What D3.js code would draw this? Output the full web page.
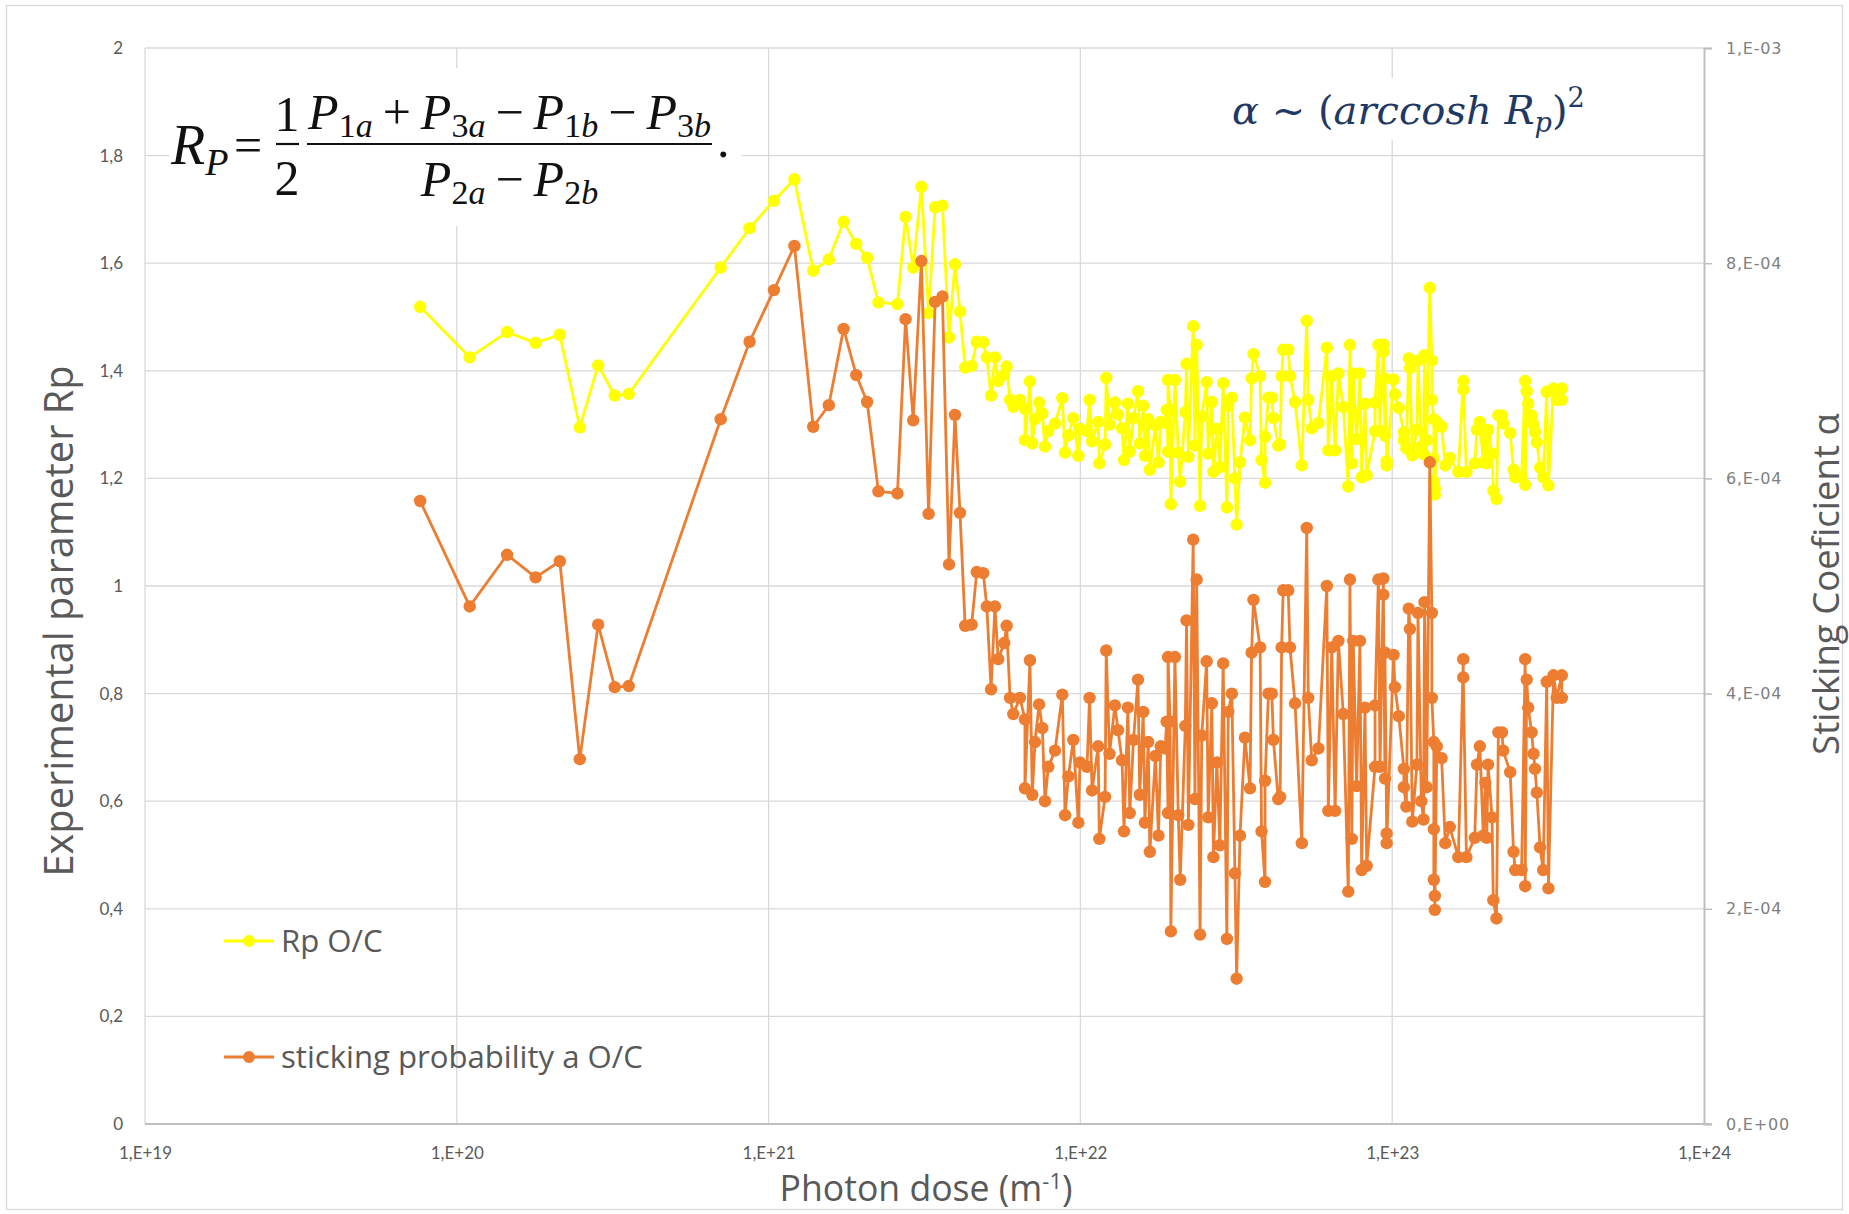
<!DOCTYPE html>
<meta charset="utf-8">
<style>

body {
  margin: 0;
  background: #fff;
}

svg {
  display: block;
  font-family: "Open Sans", sans-serif;
}

.grid line {
  stroke: #d9d9d9;
  stroke-width: 1.3;
}

.axis--left text,
.axis--bottom text {
  font-family: Lato, sans-serif;
  font-size: 17px;
  fill: #595959;
}

.axis--right text {
  font-family: "DejaVu Sans", sans-serif;
  font-size: 16px;
  letter-spacing: 0.8px;
  fill: #808080;
}

.title {
  fill: #595959;
}

</style>
<svg width="1849" height="1214"></svg>
<script src="https://cdn.jsdelivr.net/npm/d3@7"></script>
<script>

// photon dose (m-1), shared by both series
var doses = [
  7.63e19, 1.10e20, 1.45e20, 1.79e20, 2.14e20, 2.48e20, 2.84e20, 3.21e20, 3.56e20, 7.02e20,
  8.69e20, 1.04e21, 1.21e21, 1.39e21, 1.56e21, 1.74e21, 1.91e21, 2.07e21, 2.25e21, 2.59e21,
  2.75e21, 2.91e21, 3.09e21, 3.26e21, 3.42e21, 3.61e21, 3.79e21, 3.96e21, 4.11e21, 4.27e21,
  4.48e21, 4.65e21, 4.88e21, 5.01e21, 5.17e21, 5.32e21, 5.45e21, 5.70e21, 5.80e21, 5.95e21,
  6.09e21, 6.40e21, 6.64e21, 6.64e21, 6.89e21, 7.01e21, 7.15e21, 7.37e21, 7.55e21, 7.70e21,
  7.89e21, 8.29e21, 8.75e21, 8.93e21, 9.15e21, 9.49e21, 9.85e21, 9.97e21, 1.05e22, 1.07e22,
  1.09e22, 1.14e22, 1.15e22, 1.20e22, 1.21e22, 1.24e22, 1.29e22, 1.32e22, 1.36e22, 1.38e22,
  1.42e22, 1.44e22, 1.48e22, 1.53e22, 1.55e22, 1.59e22, 1.61e22, 1.65e22, 1.67e22, 1.74e22,
  1.78e22, 1.81e22, 1.87e22, 1.89e22, 1.91e22, 1.91e22, 1.94e22, 1.95e22, 2.01e22, 2.06e22,
  2.09e22, 2.17e22, 2.19e22, 2.22e22, 2.30e22, 2.33e22, 2.36e22, 2.42e22, 2.45e22, 2.54e22,
  2.57e22, 2.64e22, 2.67e22, 2.74e22, 2.80e22, 2.87e22, 2.95e22, 2.98e22, 3.06e22, 3.13e22,
  3.17e22, 3.25e22, 3.37e22, 3.50e22, 3.54e22, 3.59e22, 3.77e22, 3.81e22, 3.91e22, 3.91e22,
  4.01e22, 4.11e22, 4.16e22, 4.31e22, 4.37e22, 4.42e22, 4.47e22, 4.64e22, 4.70e22, 4.88e22,
  5.13e22, 5.32e22, 5.38e22, 5.52e22, 5.80e22, 6.17e22, 6.24e22, 6.40e22, 6.56e22, 6.72e22,
  6.97e22, 7.23e22, 7.32e22, 7.42e22, 7.50e22, 7.69e22, 7.88e22, 7.98e22, 8.18e22, 8.28e22,
  8.81e22, 8.81e22, 9.03e22, 9.14e22, 9.37e22, 9.37e22, 9.48e22, 9.48e22, 9.60e22, 9.60e22,
  1.01e23, 1.02e23, 1.05e23, 1.09e23, 1.09e23, 1.11e23, 1.13e23, 1.14e23, 1.16e23, 1.20e23,
  1.21e23, 1.24e23, 1.26e23, 1.27e23, 1.29e23, 1.32e23, 1.34e23, 1.34e23, 1.36e23, 1.36e23,
  1.36e23, 1.37e23, 1.37e23, 1.39e23, 1.44e23, 1.48e23, 1.53e23, 1.63e23, 1.69e23, 1.69e23,
  1.73e23, 1.84e23, 1.87e23, 1.91e23, 1.96e23, 1.99e23, 2.01e23, 2.03e23, 2.09e23, 2.11e23,
  2.16e23, 2.19e23, 2.25e23, 2.27e23, 2.39e23, 2.45e23, 2.48e23, 2.60e23, 2.67e23, 2.67e23,
  2.70e23, 2.73e23, 2.80e23, 2.84e23, 2.87e23, 2.91e23, 2.98e23, 3.05e23, 3.13e23, 3.17e23,
  3.29e23, 3.37e23, 3.50e23, 3.50e23
];

// Rp O/C (left axis)
var rpValues = [
  1.519, 1.425, 1.472, 1.452, 1.467, 1.295, 1.410, 1.354, 1.357, 1.592,
  1.665, 1.716, 1.756, 1.586, 1.607, 1.677, 1.636, 1.610, 1.527, 1.524,
  1.686, 1.592, 1.742, 1.507, 1.704, 1.707, 1.462, 1.598, 1.510, 1.406,
  1.409, 1.454, 1.453, 1.425, 1.354, 1.425, 1.381, 1.393, 1.408, 1.346,
  1.333, 1.346, 1.329, 1.271, 1.380, 1.265, 1.310, 1.341, 1.321, 1.259,
  1.288, 1.302, 1.349, 1.248, 1.280, 1.312, 1.242, 1.292, 1.288, 1.346,
  1.269, 1.305, 1.228, 1.263, 1.387, 1.300, 1.341, 1.319, 1.293, 1.234,
  1.339, 1.250, 1.312, 1.362, 1.265, 1.335, 1.242, 1.310, 1.216, 1.298,
  1.230, 1.305, 1.303, 1.327, 1.250, 1.383, 1.327, 1.152, 1.383, 1.248,
  1.194, 1.323, 1.413, 1.240, 1.483, 1.261, 1.448, 1.149, 1.315, 1.379,
  1.246, 1.342, 1.212, 1.292, 1.221, 1.377, 1.146, 1.335, 1.350, 1.200,
  1.114, 1.230, 1.313, 1.271, 1.386, 1.431, 1.390, 1.234, 1.192, 1.277,
  1.350, 1.350, 1.312, 1.261, 1.263, 1.390, 1.439, 1.439, 1.390, 1.342,
  1.224, 1.493, 1.346, 1.293, 1.303, 1.443, 1.252, 1.390, 1.252, 1.395,
  1.333, 1.185, 1.448, 1.228, 1.395, 1.273, 1.395, 1.202, 1.339, 1.206,
  1.288, 1.341, 1.448, 1.288, 1.449, 1.435, 1.279, 1.386, 1.232, 1.224,
  1.384, 1.356, 1.331, 1.286, 1.271, 1.256, 1.423, 1.405, 1.243, 1.290,
  1.419, 1.259, 1.245, 1.429, 1.271, 1.554, 1.419, 1.346, 1.310, 1.237,
  1.194, 1.181, 1.170, 1.305, 1.296, 1.224, 1.238, 1.212, 1.381, 1.365,
  1.212, 1.228, 1.290, 1.305, 1.230, 1.275, 1.228, 1.290, 1.246, 1.177,
  1.162, 1.317, 1.317, 1.302, 1.284, 1.216, 1.202, 1.202, 1.381, 1.188,
  1.362, 1.339, 1.317, 1.300, 1.286, 1.267, 1.220, 1.202, 1.361, 1.187,
  1.367, 1.346, 1.367, 1.346
];

// sticking probability alpha O/C (right axis)
var alphaValues = [
  5.79e-4, 4.81e-4, 5.29e-4, 5.08e-4, 5.23e-4, 3.39e-4, 4.64e-4, 4.06e-4, 4.07e-4, 6.55e-4,
  7.27e-4, 7.75e-4, 8.16e-4, 6.48e-4, 6.68e-4, 7.39e-4, 6.96e-4, 6.71e-4, 5.88e-4, 5.86e-4,
  7.48e-4, 6.54e-4, 8.02e-4, 5.67e-4, 7.64e-4, 7.69e-4, 5.20e-4, 6.59e-4, 5.68e-4, 4.63e-4,
  4.64e-4, 5.13e-4, 5.12e-4, 4.81e-4, 4.04e-4, 4.81e-4, 4.32e-4, 4.47e-4, 4.63e-4, 3.96e-4,
  3.81e-4, 3.96e-4, 3.76e-4, 3.12e-4, 4.31e-4, 3.06e-4, 3.55e-4, 3.90e-4, 3.68e-4, 3.00e-4,
  3.32e-4, 3.47e-4, 3.99e-4, 2.87e-4, 3.23e-4, 3.57e-4, 2.80e-4, 3.36e-4, 3.32e-4, 3.96e-4,
  3.10e-4, 3.51e-4, 2.65e-4, 3.04e-4, 4.40e-4, 3.44e-4, 3.89e-4, 3.66e-4, 3.38e-4, 2.72e-4,
  3.87e-4, 2.89e-4, 3.57e-4, 4.13e-4, 3.06e-4, 3.83e-4, 2.80e-4, 3.55e-4, 2.53e-4, 3.42e-4,
  2.68e-4, 3.51e-4, 3.49e-4, 3.74e-4, 2.89e-4, 4.34e-4, 3.74e-4, 1.79e-4, 4.34e-4, 2.87e-4,
  2.27e-4, 3.70e-4, 4.68e-4, 2.78e-4, 5.43e-4, 3.02e-4, 5.06e-4, 1.76e-4, 3.61e-4, 4.30e-4,
  2.85e-4, 3.91e-4, 2.48e-4, 3.36e-4, 2.59e-4, 4.28e-4, 1.72e-4, 3.83e-4, 4.00e-4, 2.33e-4,
  1.35e-4, 2.68e-4, 3.59e-4, 3.12e-4, 4.38e-4, 4.87e-4, 4.43e-4, 2.72e-4, 2.25e-4, 3.19e-4,
  4.00e-4, 4.00e-4, 3.57e-4, 3.02e-4, 3.04e-4, 4.43e-4, 4.96e-4, 4.96e-4, 4.43e-4, 3.91e-4,
  2.61e-4, 5.54e-4, 3.96e-4, 3.38e-4, 3.49e-4, 5.00e-4, 2.91e-4, 4.43e-4, 2.91e-4, 4.49e-4,
  3.81e-4, 2.16e-4, 5.06e-4, 2.65e-4, 4.49e-4, 3.14e-4, 4.49e-4, 2.36e-4, 3.87e-4, 2.40e-4,
  3.32e-4, 3.89e-4, 5.06e-4, 3.32e-4, 5.07e-4, 4.92e-4, 3.21e-4, 4.38e-4, 2.70e-4, 2.61e-4,
  4.36e-4, 4.06e-4, 3.79e-4, 3.30e-4, 3.13e-4, 2.95e-4, 4.79e-4, 4.60e-4, 2.81e-4, 3.34e-4,
  4.75e-4, 3.00e-4, 2.83e-4, 4.85e-4, 3.13e-4, 6.15e-4, 4.75e-4, 3.96e-4, 3.55e-4, 2.74e-4,
  2.27e-4, 2.12e-4, 1.99e-4, 3.51e-4, 3.40e-4, 2.61e-4, 2.76e-4, 2.48e-4, 4.32e-4, 4.15e-4,
  2.48e-4, 2.66e-4, 3.34e-4, 3.51e-4, 2.68e-4, 3.17e-4, 2.66e-4, 3.34e-4, 2.85e-4, 2.08e-4,
  1.91e-4, 3.64e-4, 3.64e-4, 3.47e-4, 3.27e-4, 2.53e-4, 2.36e-4, 2.36e-4, 4.32e-4, 2.21e-4,
  4.13e-4, 3.87e-4, 3.64e-4, 3.44e-4, 3.30e-4, 3.08e-4, 2.57e-4, 2.36e-4, 4.11e-4, 2.19e-4,
  4.17e-4, 3.96e-4, 4.17e-4, 3.96e-4
];

var seriesNames = ["Rp O/C", "sticking probability a O/C"];

var xTicks = [1e19, 1e20, 1e21, 1e22, 1e23, 1e24],
    xTickLabels = ["1,E+19", "1,E+20", "1,E+21", "1,E+22", "1,E+23", "1,E+24"];
var yTicks = [0, 0.2, 0.4, 0.6, 0.8, 1, 1.2, 1.4, 1.6, 1.8, 2],
    yTickLabels = ["0", "0,2", "0,4", "0,6", "0,8", "1", "1,2", "1,4", "1,6", "1,8", "2"];
var alphaTicks = [0, 2e-4, 4e-4, 6e-4, 8e-4, 1e-3],
    alphaTickLabels = ["0,E+00", "2,E-04", "4,E-04", "6,E-04", "8,E-04", "1,E-03"];

var svg = d3.select("svg"),
    margin = {top: 48, right: 145, bottom: 90, left: 145},
    width = +svg.attr("width") - margin.left - margin.right,
    height = +svg.attr("height") - margin.top - margin.bottom;

var x = d3.scaleLog().domain([1e19, 1e24]).range([0, width]),
    y = d3.scaleLinear().domain([0, 2]).range([height, 0]),
    yAlpha = d3.scaleLinear().domain([0, 1e-3]).range([height, 0]);

var data = doses.map(function(d, i) {
  return {dose: d, rp: rpValues[i], alpha: alphaValues[i]};
});

// scale a text so it spans a given width
function fitText(sel, target) {
  var w = sel.node().getComputedTextLength(),
      fs = parseFloat(sel.style("font-size"));
  sel.style("font-size", (fs * target / w) + "px");
  return fs * target / w;
}

// text made of parts, with sub/superscripts
function mathParts(text, parts, size, subShift) {
  var shift = 0;
  subShift = subShift || 0.2;
  parts.forEach(function(p) {
    var target = p.sub ? size * subShift : (p.sup ? -size * 0.42 : 0);
    text.append("tspan")
        .attr("dy", target - shift)
        .style("font-size", ((p.sub || p.sup) ? size * 0.68 : size) + "px")
        .style("font-style", p.it ? "italic" : "normal")
        .text(p.t);
    shift = target;
  });
}

// chart frame
svg.append("rect")
    .attr("x", 6.5).attr("y", 5.5)
    .attr("width", 1836).attr("height", 1204)
    .attr("fill", "#fff")
    .attr("stroke", "#d9d9d9")
    .attr("stroke-width", 1.3);

var g = svg.append("g")
    .attr("transform", "translate(" + margin.left + "," + margin.top + ")");

// gridlines
var grid = g.append("g").attr("class", "grid");
grid.selectAll(".h")
  .data(yTicks.slice(1))
  .enter().append("line")
    .attr("x1", 0).attr("x2", width)
    .attr("y1", function(d) { return y(d); })
    .attr("y2", function(d) { return y(d); });
grid.selectAll(".v")
  .data(xTicks.slice(0, -1))
  .enter().append("line")
    .attr("x1", function(d) { return x(d); })
    .attr("x2", function(d) { return x(d); })
    .attr("y1", 0).attr("y2", height);

// axes
g.append("g")
    .attr("class", "axis axis--left")
    .call(d3.axisLeft(y).tickValues(yTicks)
      .tickFormat(function(d, i) { return yTickLabels[i]; })
      .tickSize(0).tickPadding(22))
    .select(".domain").remove();

g.append("g")
    .attr("class", "axis axis--bottom")
    .attr("transform", "translate(0," + height + ")")
    .call(d3.axisBottom(x).tickValues(xTicks)
      .tickFormat(function(d, i) { return xTickLabels[i]; })
      .tickSize(0).tickPadding(23))
    .select(".domain").remove();

g.append("line")
    .attr("x1", 0).attr("x2", width + 8)
    .attr("y1", height).attr("y2", height)
    .attr("stroke", "#bfbfbf")
    .attr("stroke-width", 2);

var right = g.append("g")
    .attr("class", "axis axis--right")
    .attr("transform", "translate(" + width + ",0)")
    .call(d3.axisRight(yAlpha).tickValues(alphaTicks)
      .tickFormat(function(d, i) { return alphaTickLabels[i]; })
      .tickSize(8).tickPadding(14));
right.select(".domain").attr("stroke", "#bfbfbf").attr("stroke-width", 2);
right.selectAll(".tick line").attr("stroke", "#bfbfbf").attr("stroke-width", 1.5);

// formula images (white backgrounds hide the grid)
svg.append("rect").attr("x", 169).attr("y", 68).attr("width", 573).attr("height", 158).attr("fill", "#fff");
svg.append("rect").attr("x", 1222).attr("y", 78).attr("width", 400).attr("height", 62).attr("fill", "#fff");

var serif = '"Liberation Serif", "Times New Roman", serif';
var f1 = svg.append("g").style("font-family", serif).attr("fill", "#111");

var rp = f1.append("text").attr("x", 171).attr("y", 164);
mathParts(rp, [{t: "R", it: true}, {t: "P", it: true, sub: true}], 56);

f1.append("text").attr("x", 248).attr("y", 162).attr("text-anchor", "middle")
    .style("font-size", "50px").text("=");
f1.append("text").attr("x", 287).attr("y", 131).attr("text-anchor", "middle")
    .style("font-size", "50px").text("1");
f1.append("text").attr("x", 287).attr("y", 195).attr("text-anchor", "middle")
    .style("font-size", "50px").text("2");
f1.append("line").attr("x1", 276).attr("x2", 299).attr("y1", 144).attr("y2", 144)
    .attr("stroke", "#111").attr("stroke-width", 2.2);
f1.append("line").attr("x1", 307).attr("x2", 712).attr("y1", 144).attr("y2", 144)
    .attr("stroke", "#111").attr("stroke-width", 2.2);

var num = f1.append("text").attr("x", 509.5).attr("y", 129).attr("text-anchor", "middle");
mathParts(num, [
  {t: "P", it: true}, {t: "1", sub: true}, {t: "a", sub: true, it: true}, {t: "\u2009+\u2009"},
  {t: "P", it: true}, {t: "3", sub: true}, {t: "a", sub: true, it: true}, {t: "\u2009\u2212\u2009"},
  {t: "P", it: true}, {t: "1", sub: true}, {t: "b", sub: true, it: true}, {t: "\u2009\u2212\u2009"},
  {t: "P", it: true}, {t: "3", sub: true}, {t: "b", sub: true, it: true}
], 50, 0.16);

var den = f1.append("text").attr("x", 509.5).attr("y", 196).attr("text-anchor", "middle");
mathParts(den, [
  {t: "P", it: true}, {t: "2", sub: true}, {t: "a", sub: true, it: true}, {t: "\u2009\u2212\u2009"},
  {t: "P", it: true}, {t: "2", sub: true}, {t: "b", sub: true, it: true}
], 50, 0.16);

f1.append("text").attr("x", 717).attr("y", 157).style("font-size", "50px").text(".");

var f2 = svg.append("text")
    .attr("x", 1232).attr("y", 124)
    .attr("fill", "#1f3864")
    .style("font-family", '"DejaVu Serif", serif');
mathParts(f2, [
  {t: "\u03b1", it: true}, {t: " ~ "}, {t: "("}, {t: "arccosh", it: true}, {t: " "},
  {t: "R", it: true}, {t: "p", it: true, sub: true}, {t: ")"}, {t: "2", sup: true}
], 40);
fitText(f2, 378);

// series
var lineRp = d3.line()
    .x(function(d) { return x(d.dose); })
    .y(function(d) { return y(d.rp); });

var lineAlpha = d3.line()
    .x(function(d) { return x(d.dose); })
    .y(function(d) { return yAlpha(d.alpha); });

var series = [
  {name: seriesNames[0], color: "#ffff00", line: lineRp, yv: function(d) { return y(d.rp); }},
  {name: seriesNames[1], color: "#ed7d31", line: lineAlpha, yv: function(d) { return yAlpha(d.alpha); }}
];

series.forEach(function(s) {
  var sg = g.append("g");
  sg.append("path")
      .datum(data)
      .attr("fill", "none")
      .attr("stroke", s.color)
      .attr("stroke-width", 2.8)
      .attr("stroke-linejoin", "round")
      .attr("d", s.line);
  sg.selectAll("circle")
    .data(data)
    .enter().append("circle")
      .attr("cx", function(d) { return x(d.dose); })
      .attr("cy", s.yv)
      .attr("r", 6.2)
      .attr("fill", s.color);
});

// legend
var legend = svg.selectAll(".legend")
    .data(series)
  .enter().append("g")
    .attr("class", "legend")
    .attr("transform", function(d, i) { return "translate(224," + (941 + i * 116) + ")"; });

legend.append("line")
    .attr("x1", 0).attr("x2", 50)
    .attr("stroke", function(d) { return d.color; })
    .attr("stroke-width", 2.8);
legend.append("circle")
    .attr("cx", 25).attr("r", 6)
    .attr("fill", function(d) { return d.color; });
var legendText = legend.append("text")
    .attr("class", "title")
    .attr("x", 57)
    .attr("dy", "0.35em")
    .style("font-size", "26px")
    .text(function(d) { return d.name; });
var lfs = fitText(d3.select(legendText.nodes()[1]), 362);
d3.select(legendText.nodes()[0]).style("font-size", lfs + "px");

// axis titles
var yTitle = svg.append("text")
    .attr("class", "title")
    .attr("transform", "translate(59,621) rotate(-90)")
    .attr("text-anchor", "middle")
    .attr("dy", "0.35em")
    .style("font-size", "34px")
    .text("Experimental parameter Rp");
fitText(yTitle, 511);

var xTitle = svg.append("text")
    .attr("class", "title")
    .attr("x", 926).attr("y", 1201)
    .attr("text-anchor", "middle")
    .style("font-size", "34px");
xTitle.append("tspan").text("Photon dose (m");
xTitle.append("tspan").attr("dy", -12).style("font-size", "22px").text("-1");
xTitle.append("tspan").attr("dy", 12).text(")");
fitText(xTitle, 294);

var y2Title = svg.append("text")
    .attr("class", "title")
    .attr("transform", "translate(1826,584) rotate(-90)")
    .attr("text-anchor", "middle")
    .attr("dy", "0.35em")
    .style("font-size", "32px")
    .text("Sticking Coeficient \u03b1");
fitText(y2Title, 342);

</script>
